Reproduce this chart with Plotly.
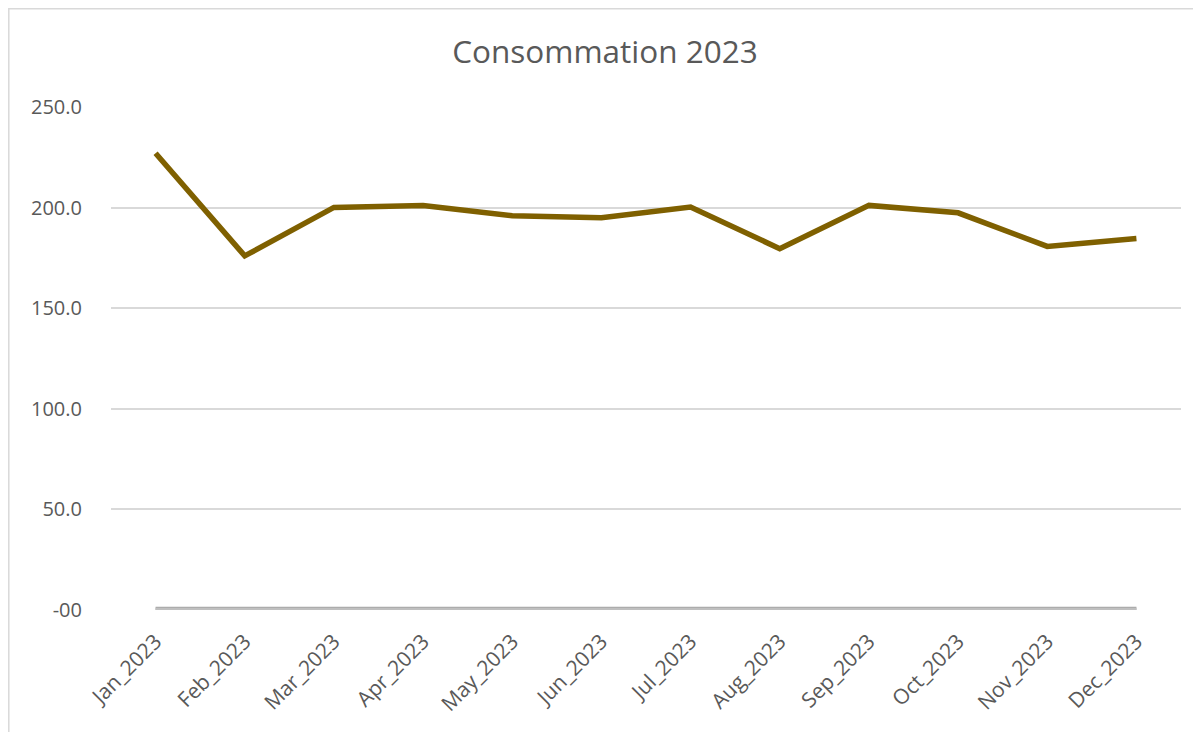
import plotly.graph_objects as go

months = ["Jan_2023", "Feb_2023", "Mar_2023", "Apr_2023", "May_2023", "Jun_2023",
          "Jul_2023", "Aug_2023", "Sep_2023", "Oct_2023", "Nov_2023", "Dec_2023"]
consommation = [227, 176, 200.1, 201, 196, 195, 200.3, 179.6, 201.1, 197.4, 180.7, 184.6]
baseline = [0, 0, 0, 0, 0, 0, 0, 0, 0, 0, 0, 0]
y_tickvals = [0, 50, 100, 150, 200, 250]
y_ticktext = ["-00", "50.0", "100.0", "150.0", "200.0", "250.0"]

# page body has an 8px margin, so the figure sits at (8, 8) in the window
W, H = 1201, 732
L, R, T, B = 103, 28, 99, 130
pw, ph = W - L - R, H - T - B

fig = go.Figure()
fig.add_trace(go.Scatter(x=months, y=baseline, mode="lines",
                         line=dict(color="#A6A6A6", width=6.5), hoverinfo="skip"))
fig.add_trace(go.Scatter(x=months, y=baseline, mode="lines",
                         line=dict(color="#BFBFBF", width=4.5)))
fig.add_trace(go.Scatter(x=months, y=consommation, mode="lines",
                         line=dict(color="#7F6000", width=5.5)))

font_family = "Open Sans, Noto Sans, sans-serif"
fig.update_layout(
    width=W, height=H,
    margin=dict(l=L, r=R, t=T, b=B),
    paper_bgcolor="white", plot_bgcolor="white",
    showlegend=False,
    title=dict(text="Consommation 2023", x=597 / W,
               xanchor="center", y=1 - 44 / H, yanchor="middle",
               font=dict(family=font_family, size=31.5, color="#595959")),
    font=dict(family=font_family, color="#595959"),
)
fig.update_xaxes(range=[-0.5, 11.5], showgrid=False, zeroline=False, showline=False,
                 tickangle=-45, tickfont=dict(size=21, color="#595959"),
                 ticks="", ticklabelstandoff=14)
fig.update_yaxes(range=[0, 250], tickvals=y_tickvals, ticktext=y_ticktext,
                 showgrid=True, gridcolor="#D9D9D9", gridwidth=1.5,
                 zeroline=False, showline=False,
                 tickfont=dict(size=20, color="#595959"), ticks="",
                 ticklabelstandoff=28)
fig.add_shape(type="rect", xref="paper", yref="paper",
              x0=(0.8 - L) / pw, x1=(W + 20 - L) / pw,
              y0=-(H + 20 - (H - B)) / ph, y1=((H - B) - 0.8) / ph,
              line=dict(color="#D9D9D9", width=1.5), fillcolor="rgba(0,0,0,0)",
              layer="below")
fig.write_html("out.html")
